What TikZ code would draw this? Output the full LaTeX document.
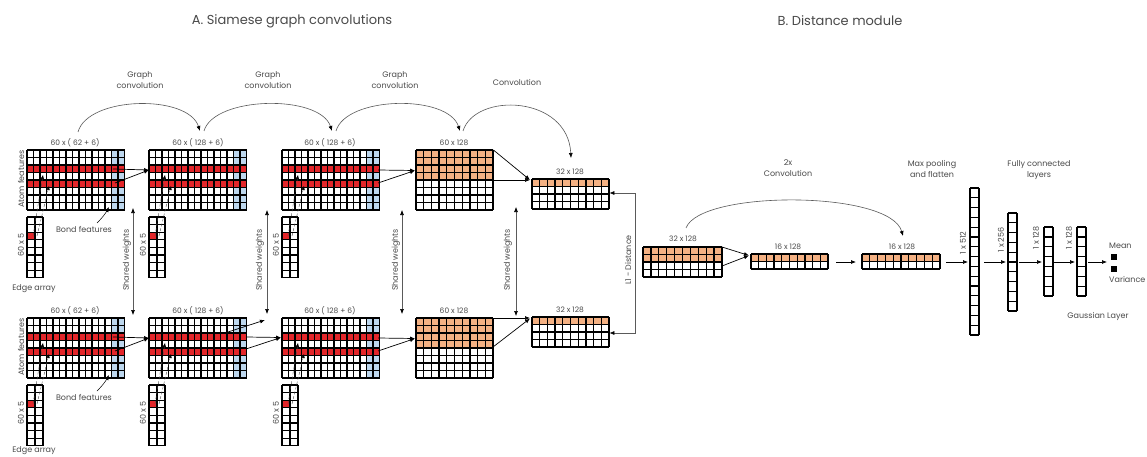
\documentclass[tikz,border=0pt]{standalone}
\usepackage{fontspec}
\setmainfont{Poppins}
\usetikzlibrary{arrows.meta,calc}
\definecolor{cred}{HTML}{E3262A}
\definecolor{corange}{HTML}{F4B183}
\definecolor{cblue}{HTML}{BDD7EE}
\definecolor{ctext}{HTML}{4A4A4A}
\definecolor{cline}{HTML}{5A5A5A}
\tikzset{
  gl/.style={line width=1.3pt, black},
  lbl/.style={text=ctext, font=\fontsize{7.5}{8}\selectfont, inner sep=0pt},
  sidetxt/.style={text=ctext, font=\fontsize{8}{9}\selectfont, inner sep=0pt},
  capt/.style={text=ctext, font=\fontsize{8}{11}\selectfont, align=center, inner sep=0pt},
  ttl/.style={text=ctext, font=\fontsize{13}{15}\selectfont, inner sep=0pt},
  arr/.style={-{Latex[length=5pt,width=4pt]}, line width=0.7pt, black},
  curvearr/.style={-{Latex[length=5pt,width=4pt,color=black]}, line width=0.6pt, cline},
  shw/.style={{Latex[length=5pt,width=4pt,color=black]}-{Latex[length=5pt,width=4pt,color=black]}, line width=0.6pt, cline},
  edgedash/.style={densely dashed, line width=0.4pt, ctext, -{Latex[length=4pt,width=3.5pt,color=black]}},
}
% grid: name, x, y, cols, rows, cell width, row height
\newcommand\cgrid[7]{%
  \path (#2,#3) node[inner sep=0pt, anchor=north west, minimum width={(#4*#6)*1pt}, minimum height={(#5*#7)*1pt}] (#1) {};
  \foreach \i in {0,...,#4} {\draw[gl] ({#2+\i*#6},#3) -- ++(0,{#5*#7});}
  \foreach \j in {0,...,#5} {\draw[gl] (#2,{#3+\j*#7}) -- ++({#4*#6},0);}
}
\newcommand\featfill[2]{%
  \fill[cblue] ({#1+84.5},#2) rectangle ++(13,60);
  \fill[cred] (#1,{#2+15}) rectangle ++(97.5,7.5);
  \fill[cred] (#1,{#2+30}) rectangle ++(97.5,7.5);
}
\newcommand\edgearr[3]{%
  \fill[cred] (#2,{#3+15.2}) rectangle ++(8,7.6);
  \cgrid{#1}{#2}{#3}{2}{8}{8}{7.6}
}
\newcommand\edgelinks[2]{%
  \draw[edgedash] ({#1+6},{#2+86}) -- ({#1+16},{#2+25});
  \draw[edgedash] ({#1+10},{#2+86}) -- ({#1+22},{#2+36});
}
% one siamese branch: suffix, vertical offset, top of last grid, edge-array label y
\newcommand\siamrow[4]{%
  \featfill{27}{150+#2}
  \cgrid{ga#1}{27}{150+#2}{15}{8}{6.5}{7.5}
  \featfill{149}{150+#2}
  \cgrid{gb#1}{149}{150+#2}{15}{8}{6.5}{7.5}
  \featfill{282}{150+#2}
  \cgrid{gc#1}{282}{150+#2}{15}{8}{6.5}{7.5}
  \fill[corange] (416,150+#2) rectangle ++(77,30);
  \cgrid{gd#1}{416}{150+#2}{10}{8}{7.7}{7.5}
  \fill[corange] (532,#3) rectangle ++(77,7.5);
  \cgrid{ge#1}{532}{#3}{10}{4}{7.7}{7.5}
  \edgearr{ea#1}{27}{217+#2}
  \edgearr{eb#1}{149}{217+#2}
  \edgearr{ec#1}{282}{217+#2}
  \edgelinks{27}{150+#2}
  \edgelinks{149}{150+#2}
  \edgelinks{282}{150+#2}
  \node[lbl] (la#1) at (75,{143+#2}) {60 x ( 62 + 6)};
  \node[lbl] (lb#1) at (198,{143+#2}) {60 x ( 128 + 6)};
  \node[lbl] (lc#1) at (330,{143+#2}) {60 x ( 128 + 6)};
  \node[lbl] (ld#1) at (454,{143+#2}) {60 x 128};
  \node[lbl] (le#1) at (570,{#3-7}) {32 x 128};
  \node[sidetxt, rotate=90] (af#1) at (21,{179+#2}) {Atom features};
  \node[sidetxt, rotate=90] (sa#1) at (21,{245+#2}) {60 x 5};
  \node[sidetxt, rotate=90] (sb#1) at (143,{245+#2}) {60 x 5};
  \node[sidetxt, rotate=90] (sc#1) at (276,{245+#2}) {60 x 5};
  \node[sidetxt] (bf#1) at (84,{229+#2}) {Bond features};
  \node[sidetxt] (ed#1) at (34,#4) {Edge array};
  \coordinate (bs#1) at (97,{223+#2});
  \coordinate (bt#1) at (109,{207+#2});
  \draw[arr, line width=0.5pt] (bs#1) to[bend right=8] (bt#1);
  \coordinate (a1#1) at (113,{169+#2});
  \coordinate (a2#1) at (115,{183+#2});
  \coordinate (a3#1) at (149,{170+#2});
  \draw[arr] (a1#1) -- (a3#1);
  \draw[arr] (a2#1) -- (a3#1);
  \coordinate (c1#1) at (378,{170+#2});
  \coordinate (c2#1) at (378,{183+#2});
  \coordinate (c3#1) at (415,{170.5+#2});
  \draw[arr] (c1#1) -- (c3#1);
  \draw[arr] (c2#1) -- (c3#1);
}
\begin{document}
\begin{tikzpicture}[x=1pt,y=-1pt]
\useasboundingbox (0,0) rectangle (1147,457);
\fill[white] (0,0) rectangle (1147,457);

\node[ttl] (ta) at (292,21) {A. Siamese graph convolutions};
\node[ttl] (tb) at (840,21) {B. Distance module};

\siamrow{t}{0}{179}{289}
\siamrow{b}{168}{317}{451}

% top branch: last convolution arrows
\draw[arr] (gdt.north east) -- (530,180);
\draw[arr] (493,180) -- (530,180);
% bottom branch extra arrows
\coordinate (x1) at (228,332);
\coordinate (x2) at (265,320);
\draw[arr] (x1) -- (x2);
\coordinate (x3) at (246,337);
\coordinate (x4) at (246,349);
\coordinate (x5) at (281,337.5);
\draw[arr] (x3) -- (x5);
\draw[arr] (x4) -- (x5);
\draw[arr] (gdb.north east) -- (530,318);
\draw[arr] (493,347) -- (530,318.5);

% convolution arcs
\node[capt] (k1) at (140,80.5) {Graph\\convolution};
\node[capt] (k2) at (268,80.5) {Graph\\convolution};
\node[capt] (k3) at (395,80.5) {Graph\\convolution};
\node[capt] (k4) at (517,82) {Convolution};
\draw[curvearr] (78,132) .. controls (88,96) and (188,94) .. (200,131);
\draw[curvearr] (204,131) .. controls (214,96) and (320,94) .. (332,131);
\draw[curvearr] (336,131) .. controls (346,96) and (448,94) .. (460,131);
\draw[curvearr] (463,131) .. controls (475,92) and (568,95) .. (571,158);

% shared weights
\foreach \sx/\tx/\ya/\yb [count=\k] in {133/127/208/315, 267/260/210/314, 402/396/210/314, 516/508/207/316}{
  \draw[shw] (\sx,\ya) -- (\sx,\yb);
  \node[sidetxt, rotate=90] (sw\k) at (\tx,260) {Shared weights};
}

% L1 distance
\coordinate (l1) at (635,193);
\coordinate (l2) at (635,333);
\draw[line width=0.6pt, cline, -{Latex[length=5pt,width=4pt,color=black]}] (l1) -- (get.east|-l1);
\draw[line width=0.6pt, cline, -{Latex[length=5pt,width=4pt,color=black]}] (l1) -- (l2) -- (geb.east|-l2);
\node[sidetxt, rotate=90] (l1d) at (628,260) {L1 - Distance};

% distance module grids
\fill[corange] (643,247) rectangle ++(79,15);
\cgrid{gf}{643}{247}{10}{4}{7.9}{7.5}
\fill[corange] (751,254) rectangle ++(77,7.5);
\cgrid{gg}{751}{254}{10}{2}{7.7}{7.5}
\fill[corange] (862,254) rectangle ++(78,7.5);
\cgrid{gh}{862}{254}{10}{2}{7.8}{7.5}
\node[lbl] (lf) at (683,239) {32 x 128};
\node[lbl] (lg) at (788,247) {16 x 128};
\node[lbl] (lh) at (902,247) {16 x 128};
\coordinate (f1) at (722,247);
\coordinate (f2) at (722,266);
\coordinate (f3) at (749,255.5);
\draw[arr] (f1) -- (f3);
\draw[arr] (f2) -- (f3);
\draw[arr] (836,262) -- (856,262);
\node[capt] (k5) at (788,168.5) {2x\\Convolution};
\draw[curvearr] (686,228) .. controls (700,190) and (890,190) .. (903,236);

% fully connected
\cgrid{fa}{970}{188}{1}{15}{9}{9.8}
\cgrid{fb}{1008}{213}{1}{10}{9}{9.8}
\cgrid{fc}{1044}{227}{1}{7}{9}{9.86}
\cgrid{fd}{1077}{227}{1}{7}{9}{9.86}
\node[sidetxt, rotate=90] (lfa) at (963,243) {1 x 512};
\node[sidetxt, rotate=90] (lfb) at (1001,240) {1 x 256};
\node[sidetxt, rotate=90] (lfc) at (1036,238) {1 x 128};
\node[sidetxt, rotate=90] (lfd) at (1069,238) {1 x 128};
\draw[arr] (946,262) -- (968,262);
\draw[arr] (984,262) -- (1006,262);
\draw[arr] (1019,262) -- (1042,262);
\draw[arr] (1054,262) -- (1075,262);
\draw[arr] (1088,262) -- (1107,262);
\node[fill=black, minimum size=6pt, inner sep=0pt] (mean) at (1114,257) {};
\node[fill=black, minimum size=6pt, inner sep=0pt] (var) at (1114,269) {};
\node[sidetxt, anchor=west] (tm) at (1109,246) {Mean};
\node[sidetxt, anchor=west] (tv) at (1109,279) {Variance};
\node[sidetxt] (tg) at (1098,316) {Gaussian Layer};
\node[capt] (tmp) at (932,168.5) {Max pooling\\and flatten};
\node[capt] (tfc) at (1039,170.5) {Fully connected\\layers};
\end{tikzpicture}
\end{document}
